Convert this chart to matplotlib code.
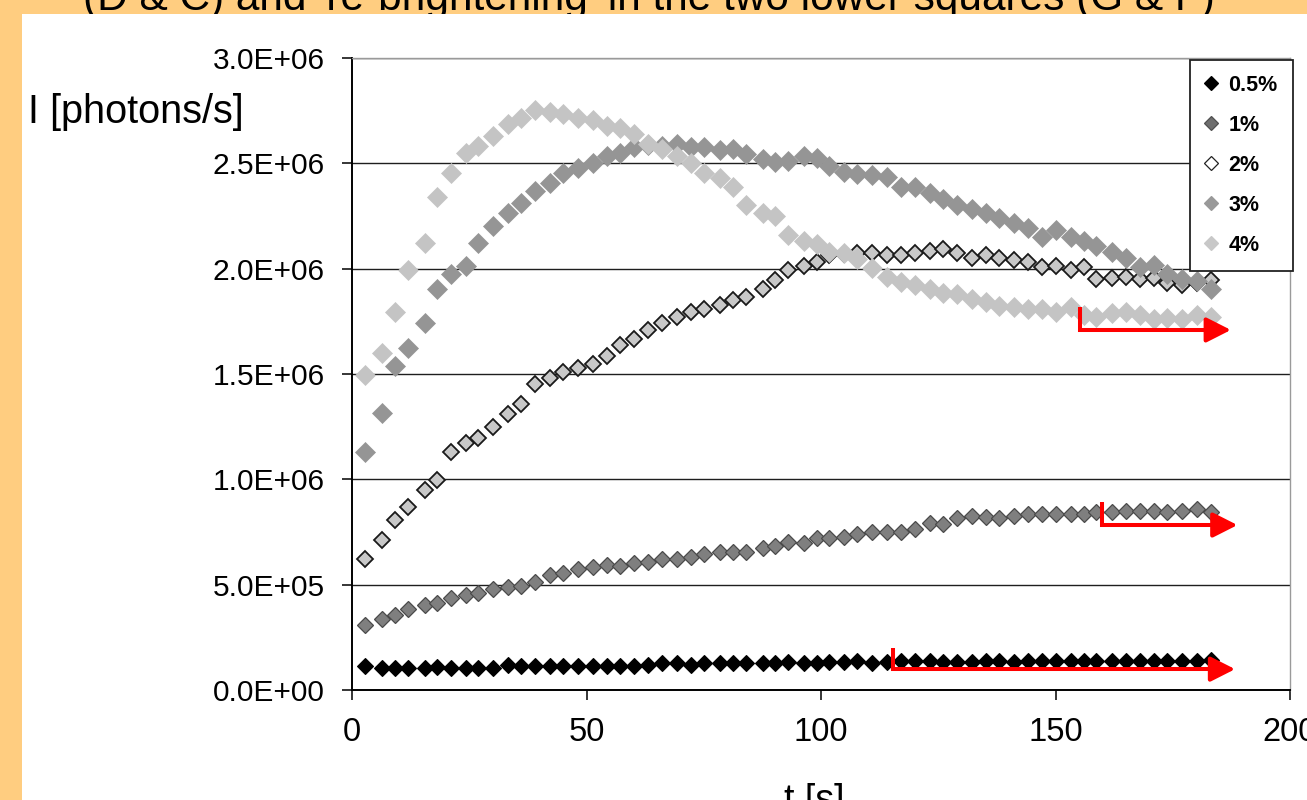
import matplotlib
matplotlib.use('Agg')
import matplotlib.pyplot as plt
from matplotlib.patches import Rectangle
from matplotlib.lines import Line2D
from matplotlib.ticker import FuncFormatter

plt.rcParams['font.family'] = ['Liberation Sans', 'DejaVu Sans']

# ---------------- data ----------------
title_text = "(D & C) and 're-brightening' in the two lower squares (G & F)"
x_label = "t [s]"
y_label = "I [photons/s]"

time_s = [2.8, 6.4, 9.2, 11.9, 15.6, 18.1, 21.1, 24.3, 26.9, 30.1,
          33.3, 36.0, 39.0, 42.2, 45.0, 48.2, 51.4, 54.4, 57.1, 60.1,
          63.1, 66.1, 69.3, 72.3, 75.1, 78.5, 81.2, 84.0, 87.6, 90.2,
          92.9, 96.3, 99.1, 101.8, 105.0, 107.7, 110.9, 114.1, 117.1, 120.1,
          123.3, 126.0, 129.0, 132.2, 135.2, 137.9, 141.1, 144.1, 147.1, 150.1,
          153.3, 156.1, 158.6, 162.0, 165.0, 168.0, 171.0, 173.8, 177.0, 180.2, 183.2]

# intensities in millions of photons/s
i_05 = [0.114, 0.106, 0.106, 0.106, 0.106, 0.107, 0.106, 0.103, 0.106, 0.104,
        0.119, 0.114, 0.114, 0.115, 0.114, 0.114, 0.114, 0.115, 0.114, 0.115,
        0.119, 0.127, 0.127, 0.119, 0.127, 0.127, 0.127, 0.130, 0.127, 0.127,
        0.134, 0.127, 0.130, 0.131, 0.134, 0.140, 0.130, 0.131, 0.140, 0.140,
        0.140, 0.134, 0.134, 0.134, 0.140, 0.140, 0.134, 0.140, 0.140, 0.140,
        0.140, 0.140, 0.140, 0.140, 0.140, 0.140, 0.140, 0.140, 0.140, 0.140, 0.143]

i_1 = [0.309, 0.336, 0.356, 0.383, 0.403, 0.412, 0.435, 0.451, 0.459, 0.478,
       0.487, 0.494, 0.514, 0.546, 0.554, 0.573, 0.582, 0.593, 0.589, 0.601,
       0.609, 0.620, 0.620, 0.630, 0.646, 0.656, 0.656, 0.656, 0.673, 0.684,
       0.704, 0.696, 0.720, 0.720, 0.728, 0.740, 0.751, 0.751, 0.751, 0.763,
       0.791, 0.788, 0.815, 0.826, 0.823, 0.815, 0.826, 0.835, 0.835, 0.835,
       0.835, 0.835, 0.846, 0.846, 0.851, 0.851, 0.851, 0.846, 0.851, 0.858, 0.846]

i_2 = [0.620, 0.712, 0.805, 0.871, 0.947, 0.999, 1.131, 1.171, 1.195, 1.250,
       1.310, 1.358, 1.453, 1.480, 1.511, 1.527, 1.547, 1.585, 1.638, 1.665,
       1.709, 1.744, 1.772, 1.796, 1.807, 1.827, 1.851, 1.864, 1.904, 1.946,
       1.994, 2.013, 2.033, 2.065, 2.070, 2.073, 2.076, 2.065, 2.065, 2.076,
       2.084, 2.092, 2.076, 2.049, 2.065, 2.049, 2.041, 2.033, 2.009, 2.013,
       1.994, 2.006, 1.952, 1.954, 1.962, 1.949, 1.954, 1.933, 1.922, 1.931, 1.946]

i_3 = [1.131, 1.316, 1.538, 1.623, 1.744, 1.902, 1.975, 2.015, 2.123, 2.203,
       2.263, 2.310, 2.370, 2.408, 2.453, 2.476, 2.500, 2.535, 2.551, 2.578,
       2.587, 2.582, 2.592, 2.579, 2.576, 2.561, 2.570, 2.544, 2.519, 2.508,
       2.512, 2.535, 2.524, 2.487, 2.460, 2.449, 2.445, 2.434, 2.389, 2.386,
       2.358, 2.329, 2.302, 2.282, 2.266, 2.239, 2.215, 2.192, 2.149, 2.184,
       2.149, 2.133, 2.108, 2.081, 2.049, 2.006, 2.017, 1.975, 1.950, 1.943, 1.902]

i_4 = [1.495, 1.601, 1.796, 1.994, 2.123, 2.342, 2.453, 2.548, 2.582, 2.630,
       2.687, 2.714, 2.753, 2.745, 2.734, 2.714, 2.706, 2.677, 2.666, 2.639,
       2.592, 2.567, 2.535, 2.500, 2.453, 2.429, 2.386, 2.302, 2.266, 2.250,
       2.162, 2.133, 2.117, 2.081, 2.073, 2.044, 2.002, 1.962, 1.938, 1.922,
       1.902, 1.883, 1.880, 1.855, 1.843, 1.823, 1.817, 1.807, 1.807, 1.796,
       1.817, 1.780, 1.772, 1.788, 1.796, 1.780, 1.760, 1.764, 1.760, 1.780, 1.772]

series_labels = ['0.5%', '1%', '2%', '3%', '4%']
series_values = [i_05, i_1, i_2, i_3, i_4]

x_ticks = [0, 50, 100, 150, 200]
y_ticks = [0.0, 0.5e6, 1.0e6, 1.5e6, 2.0e6, 2.5e6, 3.0e6]

# ---------------- styles ----------------
styles = [
    dict(mfc='#000000', mec='#000000', ms=8.3, mew=0.8),
    dict(mfc='#7f7f7f', mec='#4a4a4a', ms=8.6, mew=0.9),
    dict(mfc='#c8c8c8', mec='#1a1a1a', ms=8.3, mew=1.3),
    dict(mfc='#959595', mec='#959595', ms=9.8, mew=0.5),
    dict(mfc='#c4c4c4', mec='#c4c4c4', ms=9.8, mew=0.5),
]
legend_styles = [
    dict(mfc='#000000', mec='#000000'),
    dict(mfc='#6e6e6e', mec='#505050'),
    dict(mfc='#ffffff', mec='#222222'),
    dict(mfc='#999999', mec='#999999'),
    dict(mfc='#c8c8c8', mec='#c8c8c8'),
]

W, H = 1307, 800
fig = plt.figure(figsize=(W / 100, H / 100), dpi=100)
fig.patch.set_facecolor('#FFCD80')

# cut-off heading behind the white slide panel
fig.text(83 / W, 1 - 10 / H, title_text, fontsize=30.5, ha='left', va='baseline',
         color='black', zorder=-2)
fig.add_artist(Rectangle((22 / W, 0), 1, (H - 14) / H, transform=fig.transFigure,
                         facecolor='white', edgecolor='none', zorder=-1))

ax = fig.add_axes([352 / W, 110 / H, 938 / W, 632 / H])
ax.set_facecolor('white')

for vals, lab, st in zip(series_values, series_labels, styles):
    ax.plot(time_s, [v * 1e6 for v in vals], linestyle='none', marker='D',
            label=lab, **st)

ax.set_xlim(0, 200)
ax.set_ylim(0, 3.0e6)
ax.set_xticks(x_ticks)
ax.set_yticks(y_ticks)
ax.yaxis.set_major_formatter(FuncFormatter(lambda v, p: f"{v:.1E}"))
ax.grid(axis='y', color='#1e1e1e', linewidth=1.0)
ax.set_axisbelow(True)

for side in ['left', 'bottom']:
    ax.spines[side].set_color('black')
    ax.spines[side].set_linewidth(1.4)
for side in ['top', 'right']:
    ax.spines[side].set_color('#9a9a9a')
    ax.spines[side].set_linewidth(1.0)

ax.tick_params(axis='y', direction='out', length=7.5, width=1.1, pad=12,
               labelsize=21.5, colors='black')
ax.tick_params(axis='x', direction='out', length=7.5, width=1.1, pad=12,
               labelsize=23.5, colors='black')

# red annotation arrows (L-shaped)
arrows = [
    (155.2, 1.819e6, 1.709e6, 187.4),
    (160.0, 0.894e6, 0.783e6, 188.8),
    (115.3, 0.198e6, 0.099e6, 188.3),
]
for x0, ytop, ybot, xtip in arrows:
    ax.plot([x0, x0, xtip - 3], [ytop, ybot, ybot], color='#ff0000', lw=2.9,
            solid_joinstyle='miter', solid_capstyle='butt', zorder=10)
    ax.annotate('', xy=(xtip, ybot), xytext=(xtip - 5, ybot),
                arrowprops=dict(arrowstyle='-|>,head_length=0.75,head_width=0.38',
                                color='#ff0000', lw=2.9, mutation_scale=20,
                                shrinkA=0, shrinkB=0),
                zorder=11)

# legend
handles = [Line2D([], [], linestyle='none', marker='D', ms=7.6, mew=0.9, **ls)
           for ls in legend_styles]
leg = ax.legend(handles, series_labels, loc='upper right', bbox_to_anchor=(1.003, 0.997),
                borderaxespad=0, frameon=True, fancybox=False, framealpha=1,
                edgecolor='#222222', handlelength=0.6, handletextpad=0.5,
                borderpad=0.7, labelspacing=0.88,
                prop=dict(family='Liberation Sans', weight='bold', size=15.5))
leg.get_frame().set_linewidth(1.3)
leg.set_zorder(20)

fig.text(28 / W, 1 - 123 / H, y_label, fontsize=28.5, ha='left', va='baseline')
fig.text(814 / W, 1 - 811 / H, x_label, fontsize=27, ha='center', va='baseline')

fig.savefig('out.png', dpi=100, facecolor=fig.get_facecolor())
